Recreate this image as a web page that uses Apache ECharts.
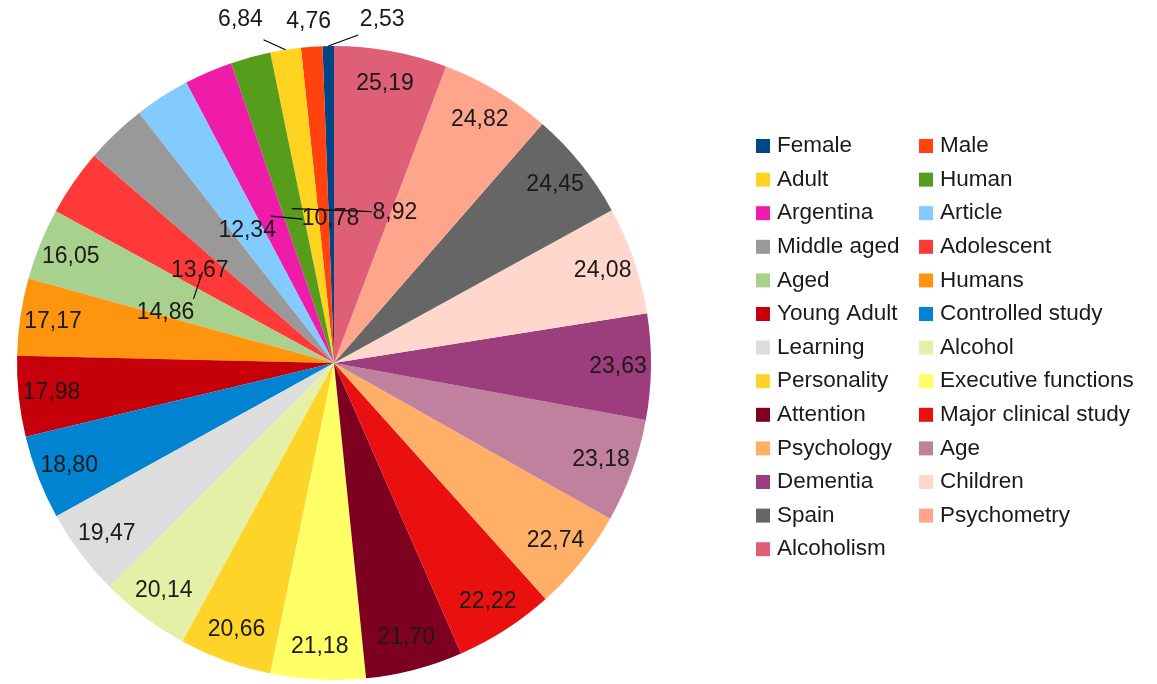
<!DOCTYPE html>
<html>
<head>
<meta charset="utf-8">
<title>Keywords pie</title>
<script src="https://cdn.jsdelivr.net/npm/echarts@6/dist/echarts.min.js"></script>
<style>
  html, body { margin: 0; padding: 0; background: #fff; }
  #chart { width: 1157px; height: 684px; }
</style>
</head>
<body>
<div id="chart"></div>
<script>
// slices, legend order (drawn counter-clockwise from 12 o'clock)
var categories = ['Female', 'Male', 'Adult', 'Human', 'Argentina', 'Article', 'Middle aged',
  'Adolescent', 'Aged', 'Humans', 'Young Adult', 'Controlled study', 'Learning', 'Alcohol',
  'Personality', 'Executive functions', 'Attention', 'Major clinical study', 'Psychology',
  'Age', 'Dementia', 'Children', 'Spain', 'Psychometry', 'Alcoholism'];
var values = [2.53, 4.76, 6.84, 8.92, 10.78, 12.34, 13.67, 14.86, 16.05, 17.17, 17.98, 18.80,
  19.47, 20.14, 20.66, 21.18, 21.70, 22.22, 22.74, 23.18, 23.63, 24.08, 24.45, 24.82, 25.19];
var colors = ['#004586', '#ff420e', '#ffd320', '#579d1c', '#ee1ca9', '#83caff', '#999999',
  '#ff3838', '#a9d18e', '#ff950e', '#c5000b', '#0084d1', '#dddddd', '#e4f0a6', '#ffd428',
  '#ffff66', '#7e0021', '#eb1010', '#ffb066', '#bf819e', '#9c3d7d', '#ffd7cc', '#666666',
  '#ffa58c', '#df5f76'];

// labels that sit above the pie / in the middle, with a short leader
var topNames = ['Female', 'Male', 'Adult'];
var innerNames = ['Human', 'Argentina', 'Article', 'Middle aged', 'Adolescent'];
// [label dx, label dy, line end dx, line end dy] from the leader anchor
var nudges = {
  'Female': [54, -26, 30, -11],
  'Male': [-3, -25, 0, 0],
  'Adult': [-45, -30, -22, -10],
  'Human': [103, 4, 80, 3],
  'Argentina': [60, 3, 32, 3],
  'Article': [0, 2, 0, 0],
  'Middle aged': [-24, 24, 0, 0],
  'Adolescent': [-37, 41, -9, 27]
};

var centre = [334, 363];
var R = 317;
var innerR = 160;
var textColor = '#1a1a1a';

function fmt(p) {
  return p.value.toFixed(2).replace('.', ',');
}

function nudgeLabel(p) {
  var name = categories[p.dataIndex];
  var n = nudges[name];
  if (!n || !p.labelLinePoints) return {};
  var a = p.labelLinePoints[0];
  // inner labels hang off a point part way down the slice radius
  if (innerNames.indexOf(name) > -1) {
    var k = innerR / R;
    a = [centre[0] + (a[0] - centre[0]) * k, centre[1] + (a[1] - centre[1]) * k];
  }
  var end = [a[0] + n[2], a[1] + n[3]];
  return {
    x: a[0] + n[0],
    y: a[1] + n[1],
    align: 'center',
    verticalAlign: 'middle',
    labelLinePoints: [a, end, end]
  };
}

var mainData = categories.map(function (name, i) {
  return { name: name, value: values[i], itemStyle: { color: colors[i] } };
});

// label ring: big slices inside, the small ones moved with a leader
var ringData = categories.map(function (name, i) {
  var item = { name: name, value: values[i] };
  if (nudges[name]) {
    item.label = { position: 'outside' };
    item.labelLine = { show: true };
  }
  return item;
});

function legendFor(odd, left) {
  return {
    orient: 'vertical',
    left: left,
    top: 129,
    icon: 'rect',
    itemWidth: 14,
    itemHeight: 14,
    itemGap: 9.6,
    selectedMode: false,
    data: categories.filter(function (n, i) { return i % 2 === (odd ? 1 : 0); }),
    textStyle: {
      color: textColor,
      fontFamily: 'Liberation Sans, Arial, sans-serif',
      fontSize: 22.5,
      lineHeight: 24,
      padding: [0, 0, 0, 2]
    }
  };
}

var option = {
  backgroundColor: '#fff',
  animation: false,
  legend: [legendFor(false, 751), legendFor(true, 914)],
  series: [
    {
      type: 'pie',
      z: 1,
      center: centre,
      radius: R,
      clockwise: false,
      startAngle: 90,
      label: { show: false },
      labelLine: { show: false },
      emphasis: { disabled: true },
      data: mainData
    },
    {
      // transparent copy that only carries the value labels
      type: 'pie',
      z: 3,
      center: centre,
      radius: [245, R],
      clockwise: false,
      startAngle: 90,
      silent: true,
      legendHoverLink: false,
      avoidLabelOverlap: false,
      itemStyle: { color: 'rgba(0,0,0,0)' },
      emphasis: { disabled: true },
      label: {
        show: true,
        position: 'inside',
        color: textColor,
        fontFamily: 'Liberation Sans, Arial, sans-serif',
        fontSize: 23,
        formatter: fmt
      },
      labelLine: { show: false, length: 8, length2: 0, lineStyle: { color: '#000', width: 1.2 } },
      labelLayout: nudgeLabel,
      data: ringData
    }
  ]
};

var chart = echarts.init(document.getElementById('chart'));
chart.setOption(option);
window.addEventListener('resize', function () { chart.resize(); });
</script>
</body>
</html>
